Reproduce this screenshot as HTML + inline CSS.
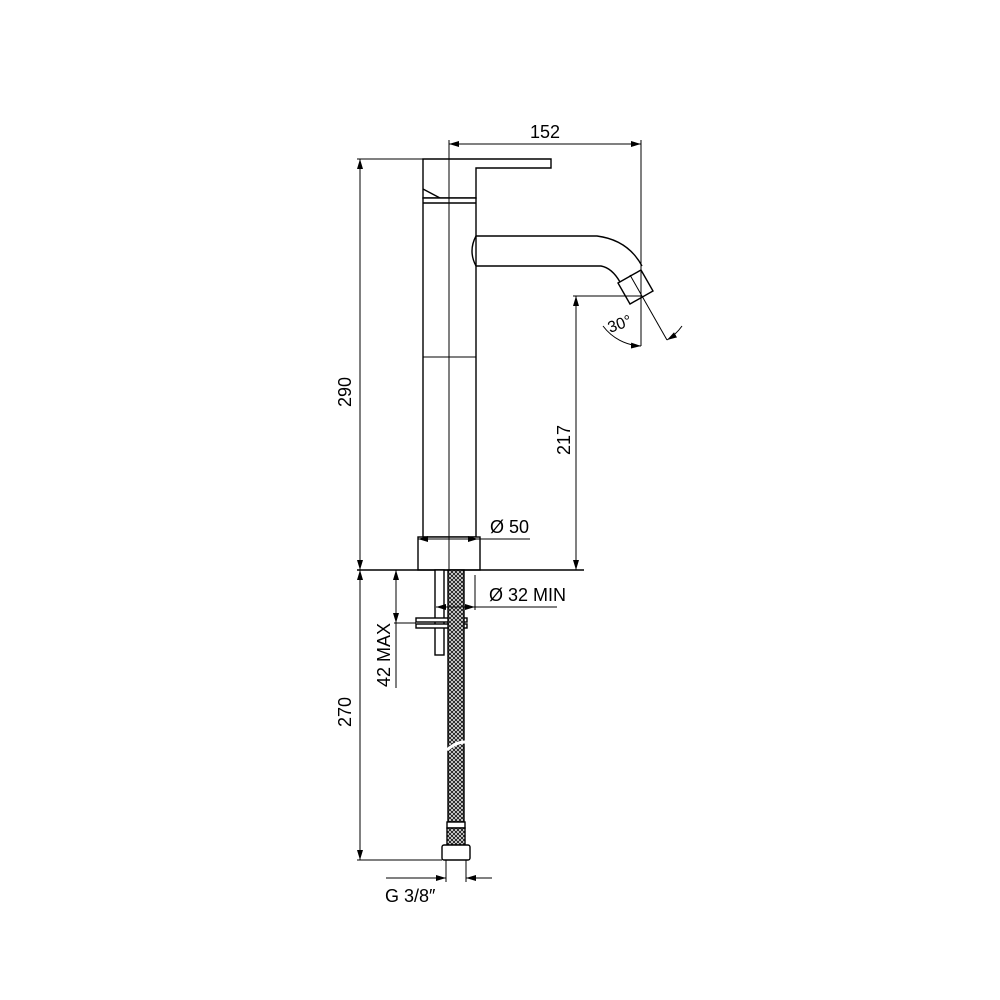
<!DOCTYPE html>
<html><head><style>body{margin:0;background:#fff}svg{display:block}</style></head><body>
<svg width="1000" height="1000" viewBox="0 0 1000 1000" xmlns="http://www.w3.org/2000/svg" font-family="Liberation Sans, sans-serif">
<defs>
<pattern id="mesh" width="4" height="4" patternUnits="userSpaceOnUse">
<rect width="4" height="4" fill="#fff"/>
<path d="M0,0 L4,4 M4,0 L0,4" stroke="#222" stroke-width="1.1"/>
</pattern>
<marker id="a" viewBox="0 0 10 6" refX="10" refY="3" markerWidth="10" markerHeight="6" orient="auto-start-reverse" markerUnits="userSpaceOnUse"><path d="M0,0 L10,3 L0,6 z" fill="#000"/></marker>
</defs>
<g fill="none" stroke="#000" stroke-width="1.4">
<path d="M423,159 H551 V168 H476 V198 H423 Z" fill="#fff"/>
<path d="M423,189 L440,198"/>
<rect x="423" y="198" width="53" height="339" fill="#fff"/>
<line x1="423" y1="203" x2="476" y2="203"/>
<line x1="423" y1="357" x2="476" y2="357" stroke-width="1"/>
<path d="M476,236 H597 Q628,240 642,266 M476,266 H601 Q612,268 620,282" />
<path d="M476,236 Q468,251 476,266" />
<path d="M618,283 L641,270 L653,291 L630,304 Z" fill="#fff"/>
<rect x="418" y="537" width="62" height="33" fill="#fff"/>
<line x1="357" y1="570" x2="584" y2="570"/>
<line x1="449" y1="144" x2="449" y2="570" stroke-width="1"/>
<rect x="435" y="570" width="9" height="85" fill="#fff"/>
<rect x="416" y="618" width="51" height="4" fill="#fff"/>
<rect x="416" y="624" width="51" height="4" fill="#fff"/>
<rect x="448" y="570" width="16" height="252" fill="url(#mesh)"/>
<path d="M447,750 Q456,742 465,742" stroke="#fff" stroke-width="3"/>
<rect x="447" y="822" width="18" height="6" fill="#fff"/>
<rect x="447" y="828" width="18" height="17" fill="url(#mesh)"/>
<rect x="442" y="845" width="28" height="15" rx="2" fill="#fff"/>
</g>
<g fill="none" stroke="#000" stroke-width="1">
<line x1="449" y1="140" x2="449" y2="159"/>
<line x1="641" y1="140" x2="641" y2="346"/>
<line x1="449" y1="144" x2="641" y2="144" marker-start="url(#a)" marker-end="url(#a)"/>
<line x1="357" y1="159" x2="423" y2="159"/>
<line x1="360" y1="159" x2="360" y2="570" marker-start="url(#a)" marker-end="url(#a)"/>
<line x1="360" y1="570" x2="360" y2="860" marker-start="url(#a)" marker-end="url(#a)"/>
<line x1="357" y1="860" x2="442" y2="860"/>
<line x1="573" y1="296" x2="641" y2="296"/>
<line x1="576" y1="296" x2="576" y2="570" marker-start="url(#a)" marker-end="url(#a)"/>
<line x1="394" y1="623" x2="416" y2="623"/>
<line x1="396" y1="570" x2="396" y2="623" marker-start="url(#a)" marker-end="url(#a)"/>
<line x1="396" y1="623" x2="396" y2="688"/>
<line x1="418" y1="539" x2="478" y2="539" marker-start="url(#a)" marker-end="url(#a)"/>
<line x1="478" y1="539" x2="530" y2="539"/>
<line x1="475" y1="575" x2="475" y2="610"/>
<line x1="436" y1="607" x2="475" y2="607" marker-start="url(#a)" marker-end="url(#a)"/>
<line x1="475" y1="607" x2="557" y2="607"/>
<line x1="446" y1="860" x2="446" y2="882"/>
<line x1="466" y1="860" x2="466" y2="882"/>
<line x1="386" y1="878" x2="446" y2="878" marker-end="url(#a)"/>
<line x1="492" y1="878" x2="466" y2="878" marker-end="url(#a)"/>
<line x1="630" y1="275" x2="667" y2="340"/>
<path d="M603,326 A50,50 0 0 0 641,346" marker-end="url(#a)"/>
<path d="M682,326 A50,50 0 0 1 667,340" marker-end="url(#a)"/>
</g>
<g font-size="18" fill="#000">
<text x="545" y="138" text-anchor="middle">152</text>
<text transform="translate(351,392) rotate(-90)" text-anchor="middle">290</text>
<text transform="translate(351,712) rotate(-90)" text-anchor="middle">270</text>
<text transform="translate(570,440) rotate(-90)" text-anchor="middle">217</text>
<text transform="translate(390,655) rotate(-90)" text-anchor="middle">42 MAX</text>
<text x="490" y="533">Ø 50</text>
<text x="489" y="601">Ø 32 MIN</text>
<text x="385" y="902">G 3/8″</text>
<text transform="translate(610,333) rotate(-20)" font-size="16">30°</text>
</g>
</svg>
</body></html>
